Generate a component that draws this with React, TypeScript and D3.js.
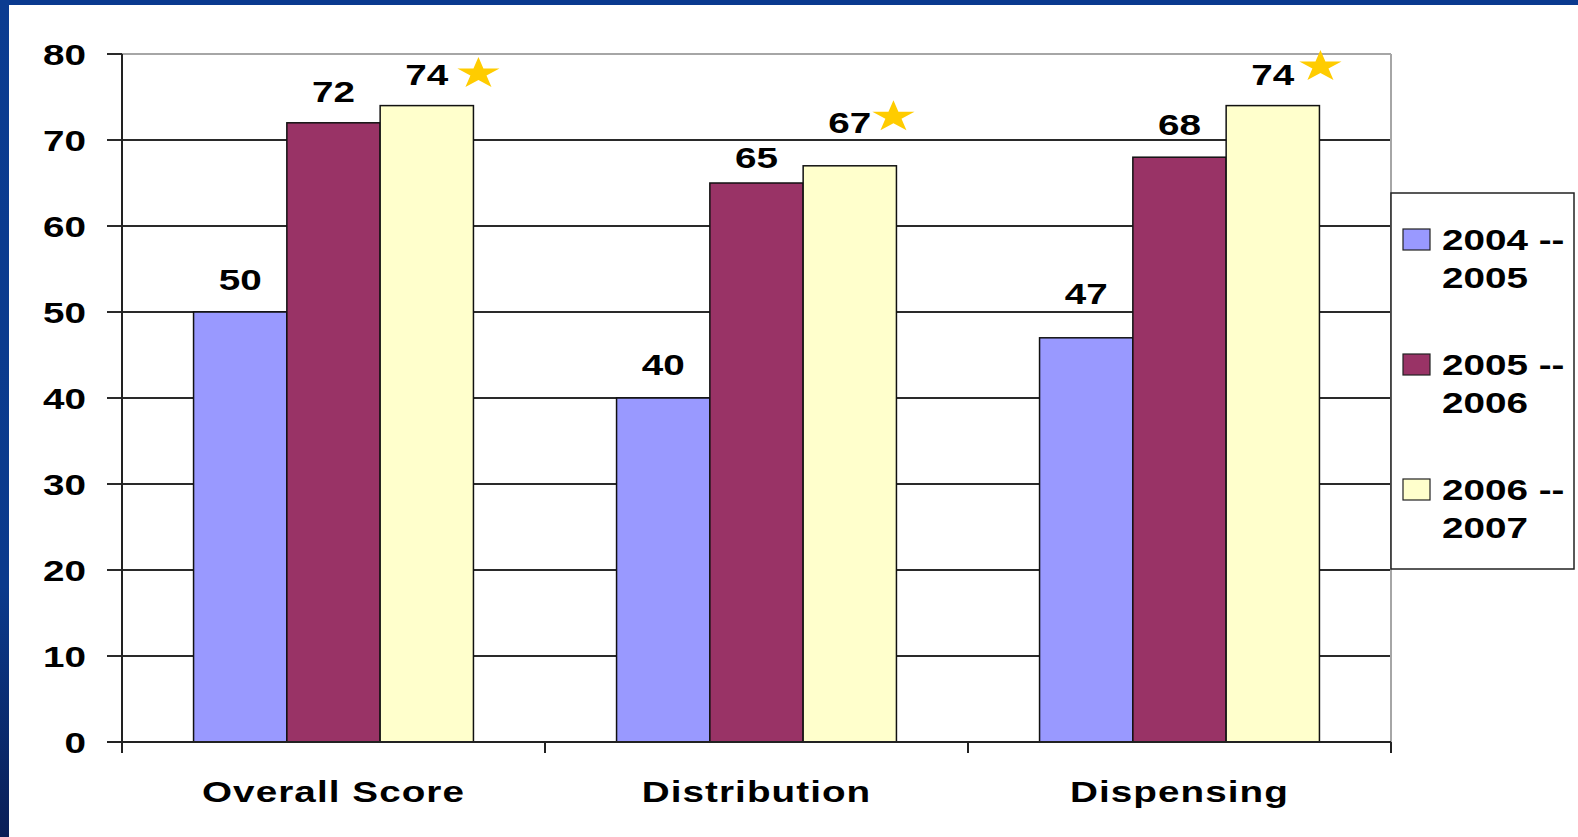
import React from "react";
import * as d3 from "d3";

const categories = ["Overall Score", "Distribution", "Dispensing"];
const seriesNames = ["2004 -- 2005", "2005 -- 2006", "2006 -- 2007"];
const values2004 = [50, 40, 47];
const values2005 = [72, 65, 68];
const values2006 = [74, 67, 74];
const yTicks = [0, 10, 20, 30, 40, 50, 60, 70, 80];

// label lift above bar top (px), per category then series
const labelLift = [
  [22, 21, 21],
  [23, 15, 33],
  [34, 22, 21],
];
// stars sit on the 2006-2007 bars: offset from bar right edge / bar top
const starOffset = [
  [5, -32],
  [-3, -49],
  [1, -39],
];

const W = 1578;
const H = 837;
const SX = 1.333; // the whole slide is stretched horizontally
const FONT = "'Liberation Sans', Arial, sans-serif";
const colors = ["#9999FF", "#993366", "#FFFFCC"];

const App: React.FC = () => {
  const series = [values2004, values2005, values2006];
  const left = 122;
  const right = 1391;
  const top = 54;
  const bottom = 742;

  const x = d3.scaleBand().domain(categories).range([left, right]).padding(0);
  const xi = d3
    .scaleBand()
    .domain(seriesNames)
    .range([0, x.bandwidth()])
    .paddingInner(0)
    .paddingOuter(0.767);
  const y = d3.scaleLinear().domain([0, 80]).range([bottom, top]);

  const star = d3.symbol().type(d3.symbolStar).size(310)() || "";

  const textStyle = {
    fontFamily: FONT,
    fontWeight: 700,
    fontSize: 29,
    fill: "#000",
  } as const;

  return (
    <svg
      width={W}
      height={H}
      style={{ position: "fixed", left: 0, top: 0, display: "block", background: "#fff" }}
    >
      <defs>
        <linearGradient id="edge" x1="0" y1="0" x2="0" y2="1">
          <stop offset="0" stopColor="#0b3c91" />
          <stop offset="0.7" stopColor="#0b3a8c" />
          <stop offset="1" stopColor="#0a1f57" />
        </linearGradient>
      </defs>
      <rect x={0} y={0} width={W} height={H} fill="#fff" />
      <rect x={0} y={0} width={W} height={5} fill="#0a3a8f" />
      <rect x={0} y={0} width={9} height={H} fill="url(#edge)" />

      {/* gridlines */}
      <g shapeRendering="crispEdges">
        {yTicks.map((t) => (
          <line
            key={"g" + t}
            x1={left - 15}
            x2={t === 80 ? left : right}
            y1={y(t)}
            y2={y(t)}
            stroke="#2a2a2a"
            strokeWidth={1.3}
          />
        ))}
        {/* plot border top / right */}
        <line x1={left} x2={right} y1={top} y2={top} stroke="#a6a6a6" strokeWidth={2} />
        <line x1={right} x2={right} y1={top} y2={bottom} stroke="#a6a6a6" strokeWidth={2} />
      </g>

      {/* bars */}
      {categories.map((c, ci) => (
        <g key={c} transform={`translate(${x(c)},0)`}>
          {seriesNames.map((s, si) => {
            const v = series[si][ci];
            return (
              <rect
                key={s}
                x={xi(s)}
                y={y(v)}
                width={xi.bandwidth()}
                height={y(0) - y(v)}
                fill={colors[si]}
                stroke="#111"
                strokeWidth={1.5}
              />
            );
          })}
        </g>
      ))}

      {/* axes */}
      <g shapeRendering="crispEdges">
        <line x1={left} x2={left} y1={top} y2={bottom + 11} stroke="#222" strokeWidth={1.5} />
        <line x1={left - 15} x2={right} y1={bottom} y2={bottom} stroke="#222" strokeWidth={1.5} />
        {[...categories.map((c) => x(c) as number), right].map((px, i) => (
          <line
            key={"xt" + i}
            x1={px}
            x2={px}
            y1={bottom}
            y2={bottom + 11}
            stroke="#222"
            strokeWidth={1.5}
          />
        ))}
      </g>

      {/* y tick labels */}
      {yTicks.map((t) => (
        <text
          key={"yl" + t}
          transform={`translate(86,${y(t) + 11}) scale(${SX},1)`}
          textAnchor="end"
          style={textStyle}
        >
          {t}
        </text>
      ))}

      {/* category labels */}
      {categories.map((c) => (
        <text
          key={"cl" + c}
          transform={`translate(${(x(c) as number) + x.bandwidth() / 2},802) scale(${SX},1)`}
          textAnchor="middle"
          style={{ ...textStyle, letterSpacing: 0.8 }}
        >
          {c}
        </text>
      ))}

      {/* value labels */}
      {categories.map((c, ci) =>
        seriesNames.map((s, si) => {
          const v = series[si][ci];
          const cx = (x(c) as number) + (xi(s) as number) + xi.bandwidth() / 2;
          return (
            <text
              key={"vl" + c + s}
              transform={`translate(${cx},${y(v) - labelLift[ci][si]}) scale(${SX},1)`}
              textAnchor="middle"
              style={textStyle}
            >
              {v}
            </text>
          );
        })
      )}

      {/* stars */}
      {categories.map((c, ci) => {
        const s = seriesNames[2];
        const bx = (x(c) as number) + (xi(s) as number) + xi.bandwidth();
        const by = y(values2006[ci]);
        return (
          <path
            key={"st" + c}
            d={star}
            fill="#FFCC00"
            transform={`translate(${bx + starOffset[ci][0]},${by + starOffset[ci][1]}) scale(${SX},1)`}
          />
        );
      })}

      {/* legend */}
      <g>
        <rect x={1391} y={193} width={183} height={376} fill="#fff" stroke="#222" strokeWidth={1.5} />
        {seriesNames.map((s, i) => {
          const ty = 229 + i * 125;
          const [a, b] = s.split(" -- ");
          return (
            <g key={"lg" + s}>
              <rect x={1403} y={ty} width={27} height={21} fill={colors[i]} stroke="#222" strokeWidth={1.2} />
              <text transform={`translate(1442,${ty + 21}) scale(${SX},1)`} style={textStyle}>
                {a + " --"}
              </text>
              <text transform={`translate(1442,${ty + 59}) scale(${SX},1)`} style={textStyle}>
                {b}
              </text>
            </g>
          );
        })}
      </g>
    </svg>
  );
};

export default App;
